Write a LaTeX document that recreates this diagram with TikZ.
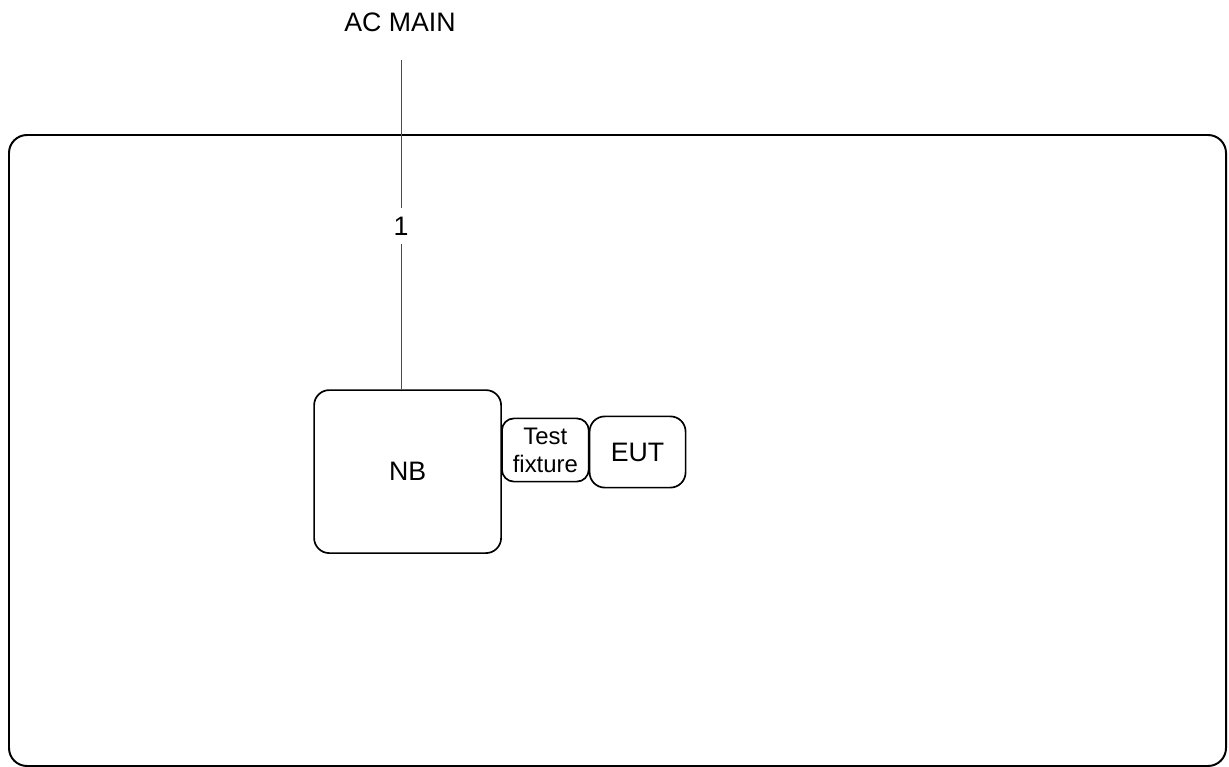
\documentclass[tikz,border=0pt]{standalone}
\usepackage{fontspec}
\setmainfont{Liberation Sans}
\usetikzlibrary{positioning, calc}
\tikzset{
    unit/.style={rectangle, draw, line width=1.2pt, rounded corners=0.38cm, align=center, font=\fontsize{19}{22}\selectfont},
    fixture/.style={rectangle, draw, line width=1.2pt, rounded corners=0.3cm, align=center, inner sep=1pt, font=\fontsize{17}{19}\selectfont},
    cable/.style={draw=black!70, line width=0.6pt}
}
\begin{document}
\begin{tikzpicture}
        \useasboundingbox (0,0) rectangle (30.725,-19.175);
        % table outline
        \draw[line width=1.4pt, rounded corners=0.45cm] (0.225,-3.375) rectangle (30.65,-19.15);
        \node[font=\fontsize{19}{22}\selectfont] (acmain) at (10.0,-0.55) {AC MAIN};
        \node[unit, minimum width=4.675cm, minimum height=4.075cm] (nb) at (10.19,-11.79) {NB};
        \node[fixture, minimum width=2.17cm, minimum height=1.58cm, right=-0.6pt of nb.east, yshift=0.54cm] (fix) {Test\\[1pt]fixture};
        \node[unit, minimum width=2.4cm, minimum height=1.78cm, right=-0.6pt of fix, yshift=-0.05cm] (eut) {EUT};
        \coordinate (ac) at (10.025,-1.5);
        \draw[cable] (ac) -- (ac |- nb.north);
        \node[fill=white, inner xsep=2pt, inner ysep=6pt, font=\fontsize{19}{22}\selectfont] (len) at (10.025,-5.65) {1};
    \end{tikzpicture}
\end{document}
